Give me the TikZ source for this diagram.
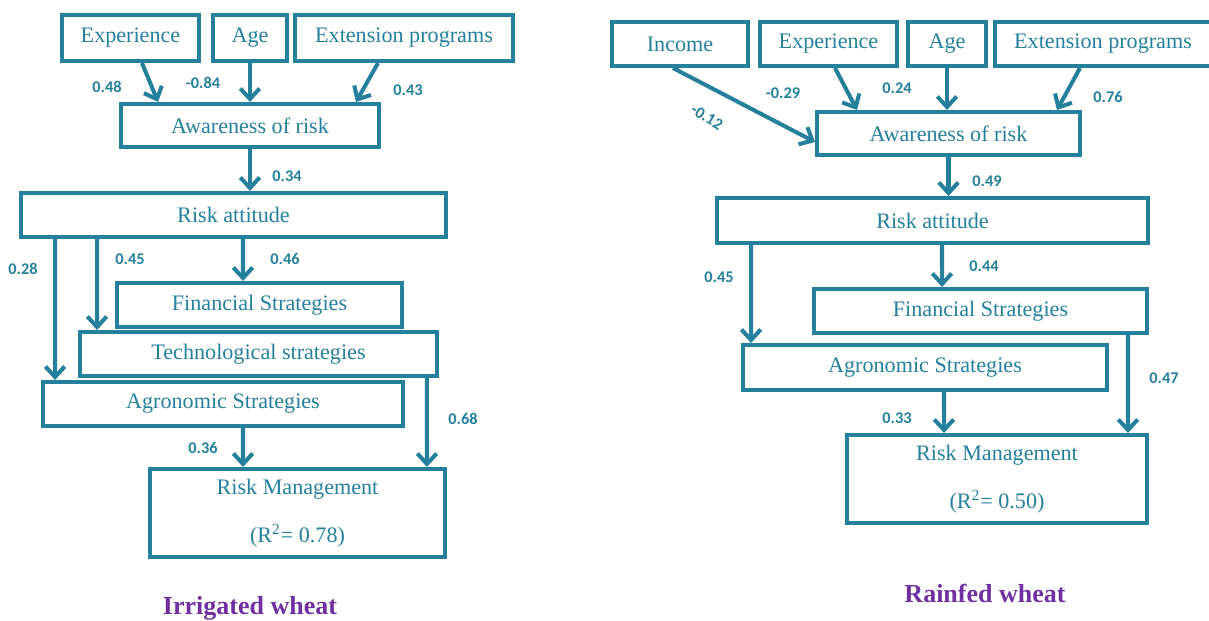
\documentclass[tikz,border=0pt]{standalone}
\usepackage{fontspec}
\setmainfont{Liberation Serif}
\newfontfamily\coeffont{Carlito}
\usetikzlibrary{arrows.meta}

\definecolor{teal}{HTML}{24809B}
\definecolor{titlepurple}{HTML}{7030A0}

\tikzset{
    blk/.style={draw=teal, line width=2.3pt, text=teal, inner sep=0pt,
        font=\fontsize{12.6}{15}\selectfont},
    coef/.style={text=teal, inner sep=0pt, font=\coeffont\bfseries\fontsize{9.3}{11}\selectfont},
    arr/.style={draw=teal, line width=2.3pt,
        -{Straight Barb[length=6pt, width=11pt, line width=2.3pt]}},
    ttl/.style={text=titlepurple, inner sep=0pt, font=\bfseries\fontsize{14.8}{17}\selectfont}
}

\begin{document}
\begin{tikzpicture}[x=0.02cm, y=-0.02cm]
        \useasboundingbox (0,0) rectangle (1209,620);
        \clip (0,0) rectangle (1209,620);

        % irrigated wheat
        \node[blk, minimum width=2.74cm, minimum height=0.92cm] (lexp) at (130.5,38) {Experience};
        \node[blk, minimum width=1.48cm, minimum height=0.92cm] (lage) at (250,38) {Age};
        \node[blk, minimum width=4.36cm, minimum height=0.92cm] (lext) at (404,38) {Extension programs};
        \node[blk, minimum width=5.16cm, minimum height=0.86cm] (laware) at (250,125.5) {Awareness of risk};
        \node[blk, minimum width=8.5cm, minimum height=0.88cm] (latt) at (233.5,215) {Risk attitude};
        \node[blk, minimum width=5.7cm, minimum height=0.88cm] (lfin) at (259.5,305) {Financial Strategies};
        \node[blk, minimum width=7.14cm, minimum height=0.88cm] (ltech) at (258.5,354) {Technological strategies};
        \node[blk, minimum width=7.2cm, minimum height=0.88cm] (lagro) at (223,404) {Agronomic Strategies};
        \node[blk, minimum width=5.9cm, minimum height=1.76cm, align=center] (lrm) at (297.5,513)
            {Risk Management\\[12pt](R\textsuperscript{2}= 0.78)};

        \draw[arr] ([xshift=0.23cm]lexp.south) -- ([xshift=-1.84cm]laware.north);
        \draw[arr] (lage.south) -- (lage.south |- laware.north);
        \draw[arr] ([xshift=-0.52cm]lext.south) -- ([xshift=2.12cm]laware.north);
        \draw[arr] (laware.south) -- (laware.south |- latt.north);
        \draw[arr] ([xshift=-3.57cm]latt.south) -- ([xshift=-3.36cm]lagro.north);
        \draw[arr] ([xshift=-2.73cm]latt.south) -- ([xshift=-3.23cm]ltech.north);
        \draw[arr] ([xshift=0.19cm]latt.south) -- ([xshift=-0.33cm]lfin.north);
        \draw[arr] ([xshift=3.37cm]ltech.south) -- ([xshift=2.59cm]lrm.north);
        \draw[arr] ([xshift=0.40cm]lagro.south) -- ([xshift=-1.09cm]lrm.north);

        \node[coef] (lc1) at (107,87) {0.48};
        \node[coef] (lc2) at (203,83) {-0.84};
        \node[coef] (lc3) at (408,90) {0.43};
        \node[coef] (lc4) at (287,176) {0.34};
        \node[coef] (lc5) at (23,269) {0.28};
        \node[coef] (lc6) at (130,259) {0.45};
        \node[coef] (lc7) at (285,259) {0.46};
        \node[coef] (lc8) at (463,419) {0.68};
        \node[coef] (lc9) at (203,448) {0.36};

        \node[ttl] (ltitle) at (250,608) {Irrigated wheat};

        % rainfed wheat
        \node[blk, minimum width=2.72cm, minimum height=0.88cm] (rinc) at (680,44) {Income};
        \node[blk, minimum width=2.74cm, minimum height=0.88cm] (rexp) at (828.5,44) {Experience};
        \node[blk, minimum width=1.56cm, minimum height=0.88cm] (rage) at (947,44) {Age};
        \node[blk, minimum width=4.32cm, minimum height=0.88cm] (rext) at (1103,44) {Extension programs};
        \node[blk, minimum width=5.26cm, minimum height=0.86cm] (raware) at (948.5,133.5) {Awareness of risk};
        \node[blk, minimum width=8.62cm, minimum height=0.9cm] (ratt) at (932.5,220.5) {Risk attitude};
        \node[blk, minimum width=6.66cm, minimum height=0.88cm] (rfin) at (980.5,311) {Financial Strategies};
        \node[blk, minimum width=7.28cm, minimum height=0.9cm] (ragro) at (925,367.5) {Agronomic Strategies};
        \node[blk, minimum width=6.0cm, minimum height=1.76cm, align=center] (rrm) at (997,479)
            {Risk Management\\[12pt](R\textsuperscript{2}= 0.50)};

        \draw[arr] ([xshift=-0.14cm]rinc.south) -- ([yshift=-0.17cm]raware.west);
        \draw[arr] ([xshift=0.13cm]rexp.south) -- ([xshift=-1.83cm]raware.north);
        \draw[arr] (rage.south) -- (rage.south |- raware.north);
        \draw[arr] ([xshift=-0.46cm]rext.south) -- ([xshift=2.17cm]raware.north);
        \draw[arr] (raware.south) -- (raware.south |- ratt.north);
        \draw[arr] ([xshift=-3.63cm]ratt.south) -- ([xshift=-3.48cm]ragro.north);
        \draw[arr] ([xshift=0.19cm]ratt.south) -- ([xshift=-0.77cm]rfin.north);
        \draw[arr] ([xshift=0.38cm]ragro.south) -- ([xshift=-1.06cm]rrm.north);
        \draw[arr] ([xshift=2.95cm]rfin.south) -- ([xshift=2.62cm]rrm.north);

        \node[coef, rotate=-32] (rc1) at (707,117) {-0.12};
        \node[coef] (rc2) at (783,93) {-0.29};
        \node[coef] (rc3) at (897,88) {0.24};
        \node[coef] (rc4) at (1108,97) {0.76};
        \node[coef] (rc5) at (987,181) {0.49};
        \node[coef] (rc6) at (719,277) {0.45};
        \node[coef] (rc7) at (984,266) {0.44};
        \node[coef] (rc8) at (1164,378) {0.47};
        \node[coef] (rc9) at (897,418) {0.33};

        \node[ttl] (rtitle) at (985,593) {Rainfed wheat};

    \end{tikzpicture}
\end{document}
